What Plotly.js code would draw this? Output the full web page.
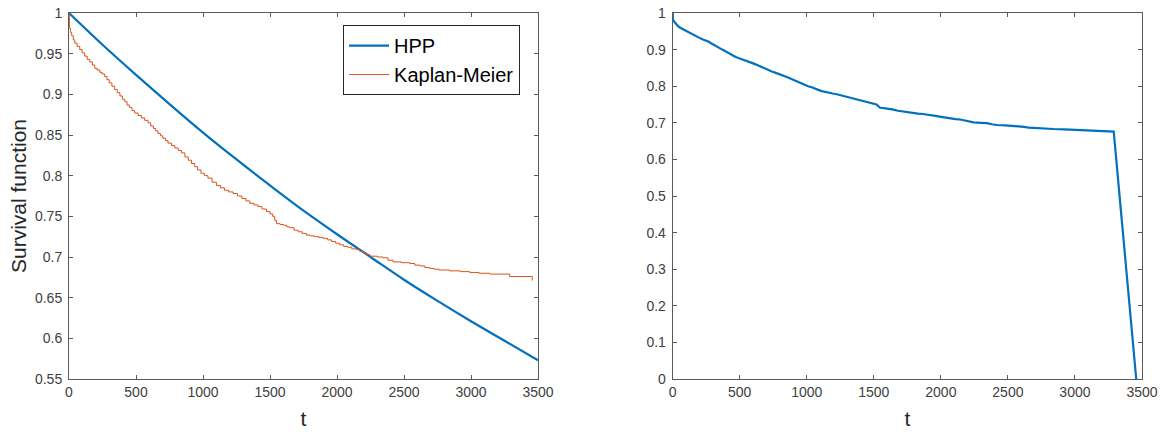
<!DOCTYPE html>
<html><head><meta charset="utf-8">
<script src="https://cdn.plot.ly/plotly-3.0.1.min.js"></script>
<style>html,body{margin:0;padding:0;background:#fff}#chart{width:1162px;height:432px}</style>
</head><body><div id="chart"></div>
<script>
// HPP survival curve
const hppT = [0, 250, 500, 750, 1000, 1250, 1500, 1750, 2000, 2250, 2500, 2750, 3000, 3250, 3500];
const hppS = [1.000, 0.961, 0.924, 0.888, 0.853, 0.820, 0.788, 0.757, 0.728, 0.700, 0.672, 0.646, 0.621, 0.597, 0.573];

// Kaplan-Meier estimate
const kmT = [0, 3, 12, 20, 32, 43, 60, 80, 98, 117, 136, 155, 174, 192, 210, 230, 248, 266, 283, 300, 320, 341, 360, 380, 398, 416, 433, 450, 470, 490, 515, 540, 565, 590, 610, 630, 647, 664, 682, 700, 720, 739, 765, 790, 815, 839, 865, 890, 914, 938, 960, 985, 1010, 1037, 1068, 1100, 1130, 1160, 1192, 1224, 1257, 1290, 1320, 1349, 1380, 1410, 1440, 1473, 1500, 1520, 1535, 1548, 1575, 1600, 1625, 1647, 1680, 1710, 1740, 1772, 1800, 1830, 1865, 1896, 1930, 1960, 1990, 2020, 2050, 2080, 2110, 2145, 2170, 2200, 2222, 2244, 2300, 2343, 2380, 2418, 2480, 2543, 2580, 2620, 2655, 2692, 2725, 2760, 2841, 2920, 2990, 3060, 3140, 3289];
const kmS = [1.000, 0.981, 0.976, 0.972, 0.967, 0.963, 0.959, 0.955, 0.951, 0.947, 0.943, 0.940, 0.936, 0.932, 0.930, 0.927, 0.925, 0.922, 0.918, 0.914, 0.910, 0.906, 0.902, 0.898, 0.894, 0.891, 0.887, 0.884, 0.880, 0.877, 0.874, 0.871, 0.868, 0.865, 0.861, 0.858, 0.855, 0.852, 0.849, 0.846, 0.843, 0.840, 0.837, 0.834, 0.831, 0.828, 0.823, 0.819, 0.815, 0.811, 0.807, 0.803, 0.800, 0.797, 0.792, 0.788, 0.785, 0.782, 0.780, 0.778, 0.775, 0.772, 0.769, 0.766, 0.764, 0.762, 0.759, 0.756, 0.753, 0.750, 0.745, 0.741, 0.740, 0.739, 0.737, 0.736, 0.733, 0.731, 0.729, 0.727, 0.726, 0.725, 0.724, 0.723, 0.721, 0.719, 0.717, 0.715, 0.713, 0.712, 0.710, 0.709, 0.707, 0.705, 0.703, 0.701, 0.700, 0.699, 0.696, 0.694, 0.693, 0.692, 0.690, 0.689, 0.687, 0.686, 0.685, 0.684, 0.683, 0.682, 0.681, 0.680, 0.679, 0.676];
// end of the staircase in the left panel
const kmLeftEndT = [3457, 3457];
const kmLeftEndS = [0.676, 0.671];
// end of the line in the right panel
const kmRightEndT = [3457];
const kmRightEndS = [0];

// tick labels
const xTicks = [0, 500, 1000, 1500, 2000, 2500, 3000, 3500];
const xTickText = ['0', '500', '1000', '1500', '2000', '2500', '3000', '3500'];
const yLeftTicks = [0.55, 0.6, 0.65, 0.7, 0.75, 0.8, 0.85, 0.9, 0.95, 1];
const yLeftText = ['0.55', '0.6', '0.65', '0.7', '0.75', '0.8', '0.85', '0.9', '0.95', '1'];
const yRightTicks = [0, 0.1, 0.2, 0.3, 0.4, 0.5, 0.6, 0.7, 0.8, 0.9, 1];
const yRightText = ['0', '0.1', '0.2', '0.3', '0.4', '0.5', '0.6', '0.7', '0.8', '0.9', '1'];

const FONT = 'Liberation Sans, Arial, Helvetica, sans-serif';
const BLUE = '#0072BD';
const RED = '#D95319';
const AX = '#5a5a5a';

const traces = [
  {x: hppT, y: hppS, type: 'scatter', mode: 'lines', name: 'HPP',
   line: {color: BLUE, width: 2.2, shape: 'spline'}, xaxis: 'x', yaxis: 'y'},
  {x: kmT.concat(kmLeftEndT), y: kmS.concat(kmLeftEndS), type: 'scatter', mode: 'lines', name: 'Kaplan-Meier',
   line: {color: RED, width: 1, shape: 'hv'}, xaxis: 'x', yaxis: 'y'},
  {x: kmT.concat(kmRightEndT), y: kmS.concat(kmRightEndS), type: 'scatter', mode: 'lines', showlegend: false,
   line: {color: BLUE, width: 2.2}, xaxis: 'x2', yaxis: 'y2', cliponaxis: false}
];

function xAxis(domain, anchor) {
  return {domain: domain, anchor: anchor, range: [0, 3500], tickmode: 'array', tickvals: xTicks, ticktext: xTickText,
    ticks: 'inside', ticklen: 4, tickcolor: AX, showline: true, linecolor: AX, linewidth: 1, mirror: 'ticks',
    showgrid: false, zeroline: false, automargin: false, tickfont: {family: FONT, size: 14, color: '#404040'},
    title: {text: 't', font: {family: FONT, size: 21, color: '#262626'}, standoff: 12}};
}
function yAxis(anchor, range, tv, tt, title) {
  const a = {anchor: anchor, domain: [0, 1], range: range, tickmode: 'array', tickvals: tv, ticktext: tt,
    ticks: 'inside', ticklen: 4, tickcolor: AX, showline: true, linecolor: AX, linewidth: 1, mirror: 'ticks',
    showgrid: false, zeroline: false, automargin: false, ticklabelstandoff: 3,
    tickfont: {family: FONT, size: 14, color: '#404040'}};
  if (title) a.title = {text: title, font: {family: FONT, size: 21, color: '#262626'}, standoff: 2};
  return a;
}

const layout = {
  width: 1162, height: 432,
  margin: {l: 69, r: 20, t: 13, b: 53, pad: 0},
  paper_bgcolor: '#ffffff', plot_bgcolor: '#ffffff',
  showlegend: true,
  legend: {x: 0.2554, y: 0.967, xanchor: 'left', yanchor: 'top', bgcolor: '#ffffff',
    bordercolor: '#262626', borderwidth: 1, font: {family: FONT, size: 20, color: '#000000'},
    itemwidth: 40, tracegroupgap: 0},
  xaxis: xAxis([0, 0.4371], 'y'),
  yaxis: yAxis('x', [0.55, 1], yLeftTicks, yLeftText, 'Survival function'),
  xaxis2: xAxis([0.5626, 1], 'y2'),
  yaxis2: yAxis('x2', [0, 1], yRightTicks, yRightText, null)
};

Plotly.newPlot('chart', traces, layout, {displayModeBar: false, staticPlot: true});
</script></body></html>
